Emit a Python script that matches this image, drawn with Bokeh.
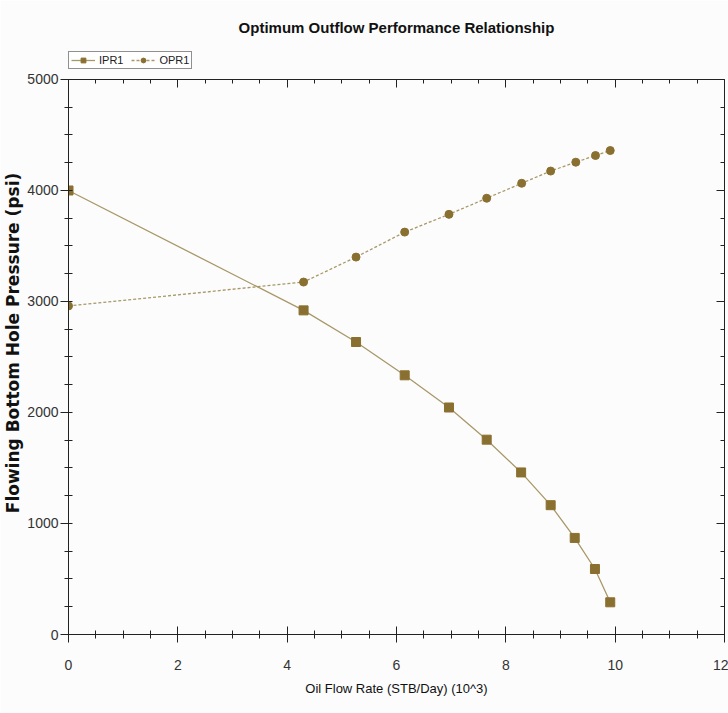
from bokeh.plotting import figure
from bokeh.models import LinearAxis, Legend, LegendItem, SingleIntervalTicker, Range1d, CustomJSTickFormatter
from bokeh.embed import file_html
from bokeh.resources import INLINE

# Data (x in 10^3 STB/Day, y in psi)
ipr_rate = [0, 4.30, 5.26, 6.15, 6.96, 7.65, 8.28, 8.82, 9.26, 9.63, 9.91]
ipr_pwf = [4000, 2920, 2635, 2335, 2045, 1755, 1460, 1165, 870, 590, 290]
opr_rate = [0, 4.30, 5.26, 6.15, 6.96, 7.65, 8.29, 8.82, 9.28, 9.64, 9.91]
opr_pwf = [2960, 3175, 3400, 3625, 3785, 3930, 4065, 4175, 4255, 4315, 4360]

x_min, x_max = 0, 12
y_min, y_max = 0, 5000
y_room = 252  # space above the top axis kept for the legend
x_ticks_major = 2
y_ticks_major = 1000

MARK = "#8a7030"
LINE = "#a89868"
FONT = "Liberation Sans"

p = figure(width=728, height=713, output_backend="svg", toolbar_location=None,
           x_range=Range1d(x_min, x_max), y_range=Range1d(y_min, y_max + y_room),
           x_axis_location=None, y_axis_location=None,
           min_border_left=66, min_border_right=4, min_border_top=50, min_border_bottom=79,
           background_fill_color="#fcfcfc", border_fill_color="#fcfcfc")
p.grid.visible = False
p.outline_line_color = None

p.title.text = "Optimum Outflow Performance Relationship"
p.title.align = "center"
p.title.text_font = FONT
p.title.text_font_size = "15px"
p.title.text_font_style = "bold"
p.title.text_color = "#111111"
p.title.standoff = 32

def style_axis(ax, labels=True):
    ax.axis_line_color = "#222222"
    ax.major_tick_line_color = "#222222"
    ax.minor_tick_line_color = "#222222"
    ax.major_tick_in = 8
    ax.major_tick_out = 8
    ax.minor_tick_in = 4
    ax.minor_tick_out = 4
    ax.major_label_text_font = FONT
    ax.major_label_text_font_size = "14px"
    ax.major_label_text_color = "#333333"
    if not labels:
        ax.formatter = CustomJSTickFormatter(code="return ''")
        ax.major_tick_out = 0
        ax.minor_tick_out = 0
        ax.major_label_standoff = 0

xb = LinearAxis(ticker=SingleIntervalTicker(interval=x_ticks_major, num_minor_ticks=4))
style_axis(xb)
xb.major_label_standoff = 17
xb.axis_label = "Oil Flow Rate (STB/Day) (10^3)"
xb.axis_label_text_font = FONT
xb.axis_label_text_font_size = "13px"
xb.axis_label_text_font_style = "normal"
xb.axis_label_text_color = "#111111"
xb.axis_label_standoff = 8
p.add_layout(xb, "below")

yl = LinearAxis(ticker=SingleIntervalTicker(interval=y_ticks_major, num_minor_ticks=4),
                bounds=(y_min, y_max))
style_axis(yl)
yl.major_tick_in = 0
yl.minor_tick_in = 4
yl.major_label_standoff = 2
yl.axis_label = "Flowing Bottom Hole Pressure (psi)"
yl.axis_label_text_font = "DejaVu Sans"
yl.axis_label_text_font_size = "17px"
yl.axis_label_text_font_style = "bold"
yl.axis_label_text_color = "#111111"
yl.axis_label_standoff = 1
p.add_layout(yl, "left")

xt = LinearAxis(ticker=SingleIntervalTicker(interval=x_ticks_major, num_minor_ticks=4),
                fixed_location=y_max)
style_axis(xt, labels=False)
p.add_layout(xt, "above")

yr = LinearAxis(ticker=SingleIntervalTicker(interval=y_ticks_major, num_minor_ticks=4),
                bounds=(y_min, y_max))
style_axis(yr, labels=False)
p.add_layout(yr, "right")

l1 = p.line(ipr_rate, ipr_pwf, line_color=LINE, line_width=1.3)
m1 = p.scatter(ipr_rate, ipr_pwf, marker="square", size=9, fill_color=MARK, line_color=MARK)
l2 = p.line(opr_rate, opr_pwf, line_color=LINE, line_width=1.3, line_dash="3 2")
m2 = p.scatter(opr_rate, opr_pwf, marker="circle", size=8, fill_color=MARK, line_color=MARK)

legend = Legend(items=[LegendItem(label="IPR1", renderers=[l1, m1]),
                       LegendItem(label="OPR1", renderers=[l2, m2])],
                orientation="horizontal", location="top_left")
legend.border_line_color = "#222222"
legend.border_line_width = 1
legend.background_fill_color = "#ffffff"
legend.label_text_font = FONT
legend.label_text_font_size = "11px"
legend.label_text_color = "#222222"
legend.glyph_width = 24
legend.glyph_height = 12
legend.label_height = 12
legend.label_standoff = 4
legend.padding = 2
legend.spacing = 8
legend.margin = 0
p.add_layout(legend)

open("out.html", "w").write(file_html(p, INLINE))
